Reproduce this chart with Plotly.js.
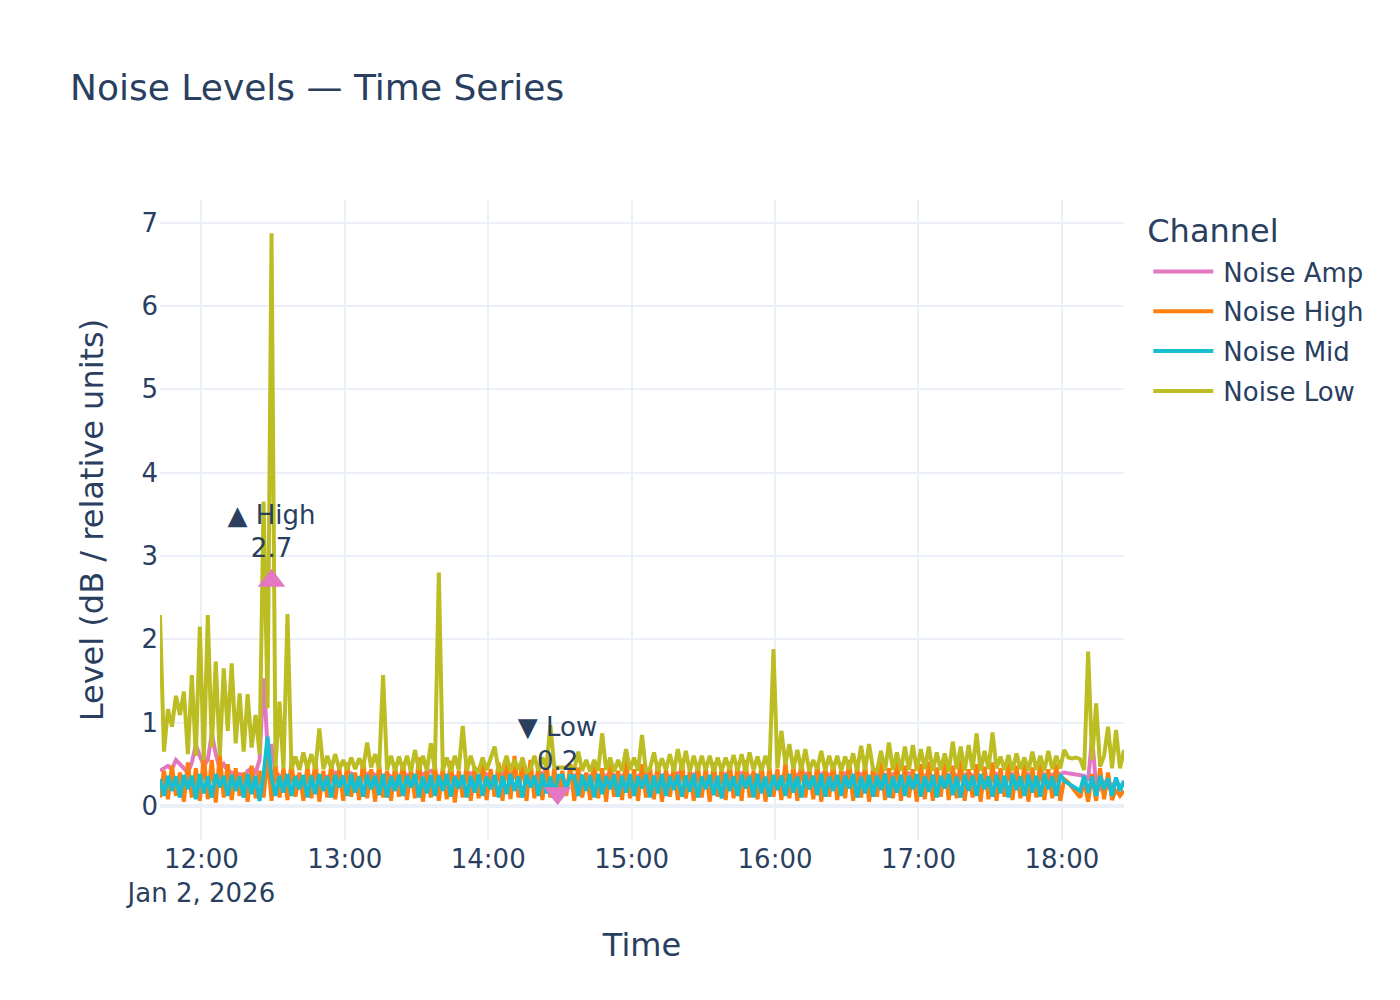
<!DOCTYPE html>
<html>
<head>
<meta charset="utf-8">
<script src="https://cdn.plot.ly/plotly-3.0.1.min.js"></script>
<style>
html,body{margin:0;padding:0;background:#fff;overflow:hidden;}
#wrap{position:absolute;left:0;top:0;width:700px;height:500px;transform:scale(2);transform-origin:0 0;}
</style>
</head>
<body>
<div id="wrap"><div id="chart" style="width:700px;height:500px;"></div></div>
<script>
// Sampling: first reading and interval (seconds)
const START_TIME = '2026-01-02 11:42:40';
const STEP_SECONDS = 100;

const seriesNames = ['Noise Amp', 'Noise High', 'Noise Mid', 'Noise Low'];
const seriesColors = ['#e377c2', '#ff7f0e', '#17becf', '#bcbd22'];

const noiseAmp = [
  0.42,0.45,0.48,0.44,0.55,0.50,0.46,0.40,0.52,0.73,
  0.60,0.48,0.55,0.87,0.62,0.45,0.50,0.42,0.40,0.36,
  0.38,0.34,0.42,0.45,0.40,0.55,1.53,0.71,0.72,0.40,
  0.36,0.32,0.35,0.30,0.34,0.36,0.33,0.30,0.35,0.38,
  0.36,0.33,0.35,0.38,0.40,0.37,0.34,0.36,0.39,0.35,
  0.33,0.36,0.38,0.40,0.37,0.34,0.36,0.38,0.35,0.33,
  0.36,0.39,0.37,0.35,0.33,0.36,0.38,0.40,0.42,0.38,
  0.35,0.33,0.36,0.38,0.35,0.32,0.34,0.37,0.39,0.36,
  0.34,0.36,0.38,0.35,0.33,0.36,0.39,0.41,0.38,0.35,
  0.33,0.35,0.38,0.36,0.34,0.37,0.39,0.30,0.26,0.22,
  0.20,0.22,0.28,0.32,0.36,0.38,0.35,0.33,0.36,0.38,
  0.35,0.33,0.36,0.39,0.37,0.34,0.36,0.38,0.35,0.33,
  0.36,0.38,0.40,0.37,0.35,0.33,0.36,0.38,0.35,0.37,
  0.39,0.36,0.34,0.36,0.38,0.35,0.33,0.30,0.28,0.30,
  0.33,0.36,0.38,0.35,0.33,0.36,0.39,0.37,0.35,0.38,
  0.36,0.34,0.32,0.30,0.28,0.31,0.35,0.38,0.36,0.34,
  0.37,0.40,0.38,0.35,0.33,0.36,0.38,0.40,0.37,0.35,
  0.33,0.36,0.39,0.37,0.34,0.36,0.38,0.35,0.33,0.36,
  0.38,0.40,0.37,0.35,0.38,0.36,0.34,0.36,0.39,0.37,
  0.35,0.33,0.36,0.38,0.35,0.33,0.31,0.34,0.37,0.39,
  0.36,0.34,0.37,0.39,0.36,0.34,0.32,0.30,0.33,0.36,
  0.38,0.35,0.33,0.36,0.38,0.35,0.33,0.36,0.38,0.35,
  0.33,0.36,0.38,0.35,0.37,0.39,0.38,0.40,0.39,0.38,
  0.38,0.37,0.36,0.30,0.83,0.22,0.20,0.28,0.22,0.25,
  0.28,0.24,0.26
];

const noiseHigh = [
  0.10,0.42,0.08,0.48,0.12,0.40,0.05,0.52,0.10,0.45,
  0.06,0.60,0.08,0.55,0.04,0.62,0.10,0.50,0.07,0.45,
  0.12,0.40,0.05,0.48,0.09,0.42,0.10,0.60,0.06,0.50,
  0.10,0.45,0.07,0.52,0.11,0.40,0.06,0.48,0.09,0.55,
  0.05,0.42,0.10,0.50,0.08,0.46,0.06,0.52,0.11,0.40,
  0.07,0.55,0.09,0.44,0.05,0.50,0.10,0.42,0.06,0.48,
  0.11,0.52,0.07,0.45,0.09,0.58,0.05,0.44,0.10,0.50,
  0.06,0.46,0.08,0.54,0.04,0.42,0.10,0.50,0.06,0.47,
  0.09,0.55,0.07,0.44,0.11,0.52,0.06,0.58,0.08,0.60,
  0.10,0.58,0.06,0.55,0.09,0.48,0.07,0.52,0.10,0.45,
  0.08,0.42,0.12,0.50,0.06,0.46,0.10,0.40,0.07,0.53,
  0.09,0.45,0.05,0.50,0.11,0.42,0.07,0.56,0.09,0.44,
  0.06,0.50,0.10,0.46,0.08,0.52,0.05,0.44,0.11,0.48,
  0.07,0.55,0.09,0.42,0.06,0.50,0.10,0.46,0.05,0.52,
  0.11,0.45,0.07,0.53,0.09,0.48,0.06,0.55,0.10,0.42,
  0.08,0.50,0.05,0.46,0.11,0.44,0.07,0.52,0.09,0.48,
  0.06,0.54,0.10,0.45,0.08,0.50,0.05,0.47,0.11,0.52,
  0.07,0.44,0.09,0.55,0.06,0.48,0.10,0.50,0.05,0.46,
  0.11,0.52,0.07,0.45,0.09,0.54,0.06,0.48,0.10,0.44,
  0.05,0.50,0.08,0.53,0.06,0.46,0.11,0.52,0.07,0.48,
  0.09,0.55,0.06,0.44,0.10,0.50,0.05,0.47,0.08,0.52,
  0.06,0.45,0.11,0.53,0.07,0.48,0.09,0.50,0.05,0.46,
  0.10,0.52,0.07,0.44,0.09,0.50,0.06,0.32,0.28,0.22,
  0.18,0.10,0.30,0.05,0.38,0.06,0.45,0.08,0.40,0.07,
  0.20,0.12,0.18
];

const noiseMid = [
  0.32,0.12,0.36,0.18,0.35,0.10,0.37,0.20,0.36,0.08,
  0.38,0.15,0.35,0.10,0.38,0.22,0.36,0.12,0.37,0.18,
  0.35,0.10,0.38,0.14,0.36,0.06,0.37,0.83,0.34,0.12,
  0.36,0.16,0.38,0.12,0.35,0.20,0.37,0.10,0.36,0.14,
  0.38,0.18,0.35,0.10,0.37,0.22,0.36,0.12,0.38,0.16,
  0.35,0.11,0.37,0.20,0.36,0.13,0.38,0.10,0.35,0.18,
  0.37,0.12,0.36,0.22,0.38,0.10,0.35,0.15,0.37,0.12,
  0.36,0.18,0.38,0.11,0.35,0.21,0.37,0.10,0.36,0.16,
  0.38,0.12,0.35,0.20,0.37,0.10,0.36,0.14,0.38,0.18,
  0.35,0.10,0.37,0.22,0.36,0.12,0.38,0.15,0.35,0.11,
  0.36,0.36,0.20,0.36,0.35,0.12,0.37,0.18,0.36,0.10,
  0.38,0.14,0.35,0.20,0.37,0.11,0.36,0.16,0.38,0.12,
  0.35,0.21,0.37,0.10,0.36,0.15,0.38,0.12,0.35,0.19,
  0.37,0.11,0.36,0.17,0.38,0.10,0.35,0.20,0.37,0.13,
  0.36,0.09,0.38,0.18,0.35,0.12,0.37,0.21,0.36,0.10,
  0.38,0.15,0.35,0.11,0.37,0.19,0.36,0.12,0.38,0.16,
  0.35,0.10,0.37,0.20,0.36,0.13,0.38,0.11,0.35,0.18,
  0.37,0.12,0.36,0.21,0.38,0.10,0.35,0.15,0.37,0.11,
  0.36,0.19,0.38,0.10,0.35,0.16,0.37,0.12,0.36,0.20,
  0.38,0.11,0.35,0.17,0.37,0.10,0.36,0.21,0.38,0.13,
  0.35,0.10,0.37,0.18,0.36,0.12,0.38,0.20,0.35,0.11,
  0.37,0.15,0.36,0.10,0.38,0.19,0.35,0.12,0.37,0.16,
  0.36,0.11,0.38,0.20,0.35,0.12,0.37,0.30,0.27,0.24,
  0.20,0.18,0.36,0.16,0.35,0.12,0.36,0.20,0.33,0.12,
  0.34,0.18,0.30
];

const noiseLow = [
  2.29,0.65,1.16,0.95,1.32,1.09,1.37,0.62,1.57,0.60,
  2.15,0.55,2.29,0.70,1.73,0.60,1.65,0.90,1.71,0.75,
  1.35,0.65,1.34,0.70,1.09,0.62,3.65,1.17,6.87,0.47,
  1.25,0.45,2.30,0.44,0.59,0.43,0.64,0.45,0.62,0.44,
  0.93,0.44,0.60,0.45,0.62,0.44,0.55,0.43,0.58,0.44,
  0.57,0.45,0.76,0.46,0.62,0.44,1.57,0.43,0.60,0.42,
  0.59,0.43,0.60,0.41,0.67,0.43,0.60,0.42,0.75,0.43,
  2.80,0.42,0.58,0.41,0.60,0.43,0.96,0.42,0.60,0.44,
  0.42,0.58,0.43,0.58,0.71,0.42,0.44,0.60,0.42,0.55,
  0.43,0.57,0.41,0.44,0.60,0.42,0.58,0.46,0.97,0.46,
  0.46,0.46,0.47,0.46,0.44,0.65,0.42,0.55,0.41,0.55,
  0.42,0.87,0.43,0.58,0.41,0.55,0.42,0.68,0.43,0.58,
  0.42,0.85,0.41,0.45,0.64,0.42,0.57,0.43,0.62,0.41,
  0.68,0.43,0.66,0.41,0.60,0.42,0.60,0.43,0.60,0.41,
  0.58,0.42,0.58,0.43,0.61,0.42,0.62,0.41,0.64,0.43,
  0.59,0.42,0.60,0.43,1.88,0.45,0.90,0.50,0.74,0.44,
  0.67,0.43,0.68,0.42,0.55,0.44,0.66,0.42,0.60,0.43,
  0.60,0.42,0.59,0.44,0.63,0.42,0.72,0.43,0.74,0.44,
  0.42,0.66,0.42,0.76,0.43,0.64,0.42,0.71,0.43,0.73,
  0.42,0.68,0.44,0.71,0.42,0.64,0.43,0.63,0.41,0.77,
  0.44,0.71,0.42,0.73,0.43,0.87,0.42,0.66,0.44,0.88,
  0.45,0.59,0.43,0.61,0.42,0.63,0.44,0.58,0.42,0.65,
  0.43,0.60,0.42,0.66,0.44,0.60,0.45,0.67,0.58,0.57,
  0.58,0.56,0.43,1.85,0.55,1.23,0.47,0.60,0.95,0.45,
  0.91,0.45,0.67
];

// Highlighted extremes (time, value, label)
const markTimes = ['2026-01-02 12:29:20', '2026-01-02 14:29:00'];
const markValues = [2.7, 0.15];
const markSymbols = ['triangle-up', 'triangle-down'];
const markLabels = ['▲ High<br>2.7', '▼ Low<br>0.2'];

function pad(n) { return String(n).padStart(2, '0'); }
function buildTimes(count) {
  const [d, t] = START_TIME.split(' ');
  const [hh, mm, ss] = t.split(':').map(Number);
  const base = hh * 3600 + mm * 60 + ss;
  const out = [];
  for (let i = 0; i < count; i++) {
    const s = base + i * STEP_SECONDS;
    out.push(d + ' ' + pad(Math.floor(s / 3600)) + ':' + pad(Math.floor((s % 3600) / 60)) + ':' + pad(s % 60));
  }
  return out;
}

const values = [noiseAmp, noiseHigh, noiseMid, noiseLow];
const traces = values.map((v, k) => ({
  type: 'scatter',
  mode: 'lines',
  name: seriesNames[k],
  x: buildTimes(v.length),
  y: v,
  line: { color: seriesColors[k], width: 2 }
}));

traces.push({
  type: 'scatter',
  mode: 'markers+text',
  x: markTimes,
  y: markValues,
  text: markLabels,
  textposition: 'top center',
  textfont: { size: 13, color: '#2a3f5f' },
  marker: { symbol: markSymbols, size: 12, color: '#e377c2' },
  showlegend: false,
  hoverinfo: 'skip'
});

const layout = {
  width: 700,
  height: 500,
  paper_bgcolor: '#ffffff',
  plot_bgcolor: '#ffffff',
  font: { family: 'DejaVu Sans, Verdana, sans-serif', size: 13, color: '#2a3f5f' },
  title: { text: 'Noise Levels — Time Series', x: 0.05, xanchor: 'left', font: { size: 18 } },
  margin: { l: 80, r: 80, t: 100, b: 80 },
  xaxis: {
    type: 'date',
    title: { text: 'Time', font: { size: 16 } },
    gridcolor: '#EBF0F8',
    gridwidth: 1,
    zeroline: false,
    showline: false,
    ticks: '',
    automargin: true
  },
  yaxis: {
    title: { text: 'Level (dB / relative units)', font: { size: 16 }, standoff: 14 },
    range: [-0.41, 7.27],
    dtick: 1,
    gridcolor: '#EBF0F8',
    gridwidth: 1,
    zeroline: true,
    zerolinecolor: '#EBF0F8',
    zerolinewidth: 2,
    ticks: '',
    automargin: true
  },
  legend: {
    title: { text: 'Channel', font: { size: 16 } },
    font: { size: 13 }
  },
  showlegend: true
};

Plotly.newPlot('chart', traces, layout, { displayModeBar: false, staticPlot: true });
</script>
</body>
</html>
